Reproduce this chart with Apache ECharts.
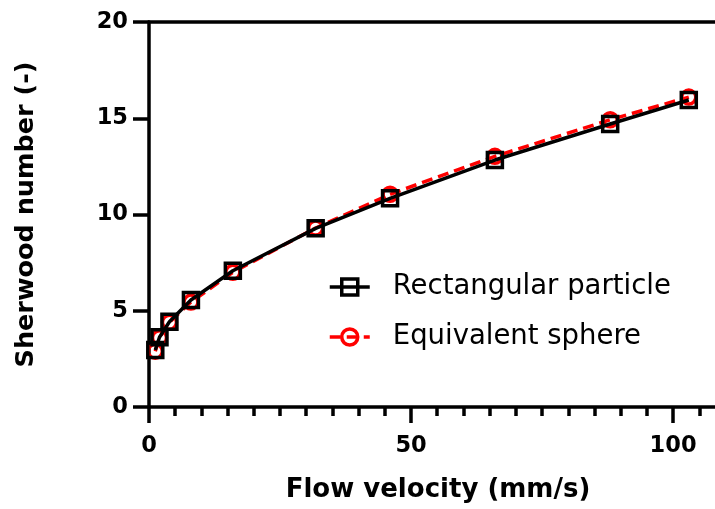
<!DOCTYPE html>
<html>
<head>
<meta charset="utf-8">
<script src="https://cdn.jsdelivr.net/npm/echarts@6/dist/echarts.min.js"></script>
<style>
html,body{margin:0;padding:0;background:#fff;}
#chart{width:715px;height:509px;}
</style>
</head>
<body>
<div id="chart"></div>
<script>
// Data
var velocity = [1.2, 2, 3.9, 8, 16, 31.8, 46, 66, 88, 103];
var rectangularSh = [2.96, 3.62, 4.43, 5.56, 7.08, 9.28, 10.84, 12.83, 14.7, 15.95];
var sphereSh = [2.9, 3.6, 4.4, 5.45, 7.0, 9.3, 11.05, 13.02, 14.92, 16.1];
var xMajorTicks = [0, 50, 100];
var xMinorTicks = [5, 10, 15, 20, 25, 30, 35, 40, 45, 55, 60, 65, 70, 75, 80, 85, 90, 95, 105];
var seriesNames = ['Rectangular particle', 'Equivalent sphere'];
var xName = 'Flow velocity (mm/s)';
var yName = 'Sherwood number (-)';

function pairs(xs, ys) { return xs.map(function (x, i) { return [x, ys[i]]; }); }

var FONT = 'DejaVu Sans';
var chart = echarts.init(document.getElementById('chart'), null, {renderer: 'canvas'});
chart.setOption({
  animation: false,
  backgroundColor: '#fff',
  grid: {left: 149, right: 0, top: 22, bottom: 102, containLabel: false},
  legend: {
    orient: 'vertical', left: 328, top: 271, padding: 0,
    itemWidth: 40, itemHeight: 20, itemGap: 18,
    data: seriesNames,
    lineStyle: {width: 3.5},
    itemStyle: {borderWidth: 3.5},
    textStyle: {fontFamily: FONT, fontSize: 27.5, color: '#000', lineHeight: 32, padding: [0, 0, 0, 18]}
  },
  xAxis: [
    {
      type: 'value', min: 0, max: 108, position: 'bottom',
      name: xName, nameLocation: 'middle', nameGap: 70,
      nameTextStyle: {fontFamily: FONT, fontSize: 26, fontWeight: 'bold', color: '#000', padding: [0, 0, 0, 12]},
      axisLine: {show: true, lineStyle: {color: '#000', width: 3.5}},
      axisTick: {show: true, length: 16, lineStyle: {color: '#000', width: 3.5}, customValues: xMajorTicks},
      axisLabel: {fontFamily: FONT, fontSize: 22.5, fontWeight: 'bold', color: '#000', margin: 28, customValues: xMajorTicks},
      splitLine: {show: false}
    },
    {
      type: 'value', min: 0, max: 108, position: 'bottom',
      axisLine: {show: false},
      axisTick: {show: true, length: 9, lineStyle: {color: '#000', width: 3.5}, customValues: xMinorTicks},
      axisLabel: {show: false},
      splitLine: {show: false}
    },
    {
      type: 'value', min: 0, max: 108, position: 'top',
      axisLine: {show: true, lineStyle: {color: '#000', width: 3.5}},
      axisTick: {show: false}, axisLabel: {show: false}, splitLine: {show: false}
    }
  ],
  yAxis: {
    type: 'value', min: 0, max: 20, interval: 5,
    name: yName, nameLocation: 'middle', nameGap: 110,
    nameTextStyle: {fontFamily: FONT, fontSize: 25.5, fontWeight: 'bold', color: '#000'},
    axisLine: {show: true, lineStyle: {color: '#000', width: 3.5}},
    axisTick: {show: true, length: 16, lineStyle: {color: '#000', width: 3.5}},
    axisLabel: {fontFamily: FONT, fontSize: 22.5, fontWeight: 'bold', color: '#000', margin: 21},
    splitLine: {show: false}
  },
  series: [
    {
      name: seriesNames[1], type: 'line', xAxisIndex: 0, z: 2,
      data: pairs(velocity, sphereSh),
      symbol: 'circle', symbolSize: 14,
      lineStyle: {color: '#ff0000', width: 3.5, type: [11, 6]},
      itemStyle: {color: 'rgba(255,255,255,0)', borderColor: '#ff0000', borderWidth: 3.5}
    },
    {
      name: seriesNames[0], type: 'line', xAxisIndex: 0, z: 3,
      data: pairs(velocity, rectangularSh),
      symbol: 'rect', symbolSize: 15,
      lineStyle: {color: '#000', width: 3.5},
      itemStyle: {color: 'rgba(255,255,255,0)', borderColor: '#000', borderWidth: 3.5}
    }
  ]
});
</script>
</body>
</html>
